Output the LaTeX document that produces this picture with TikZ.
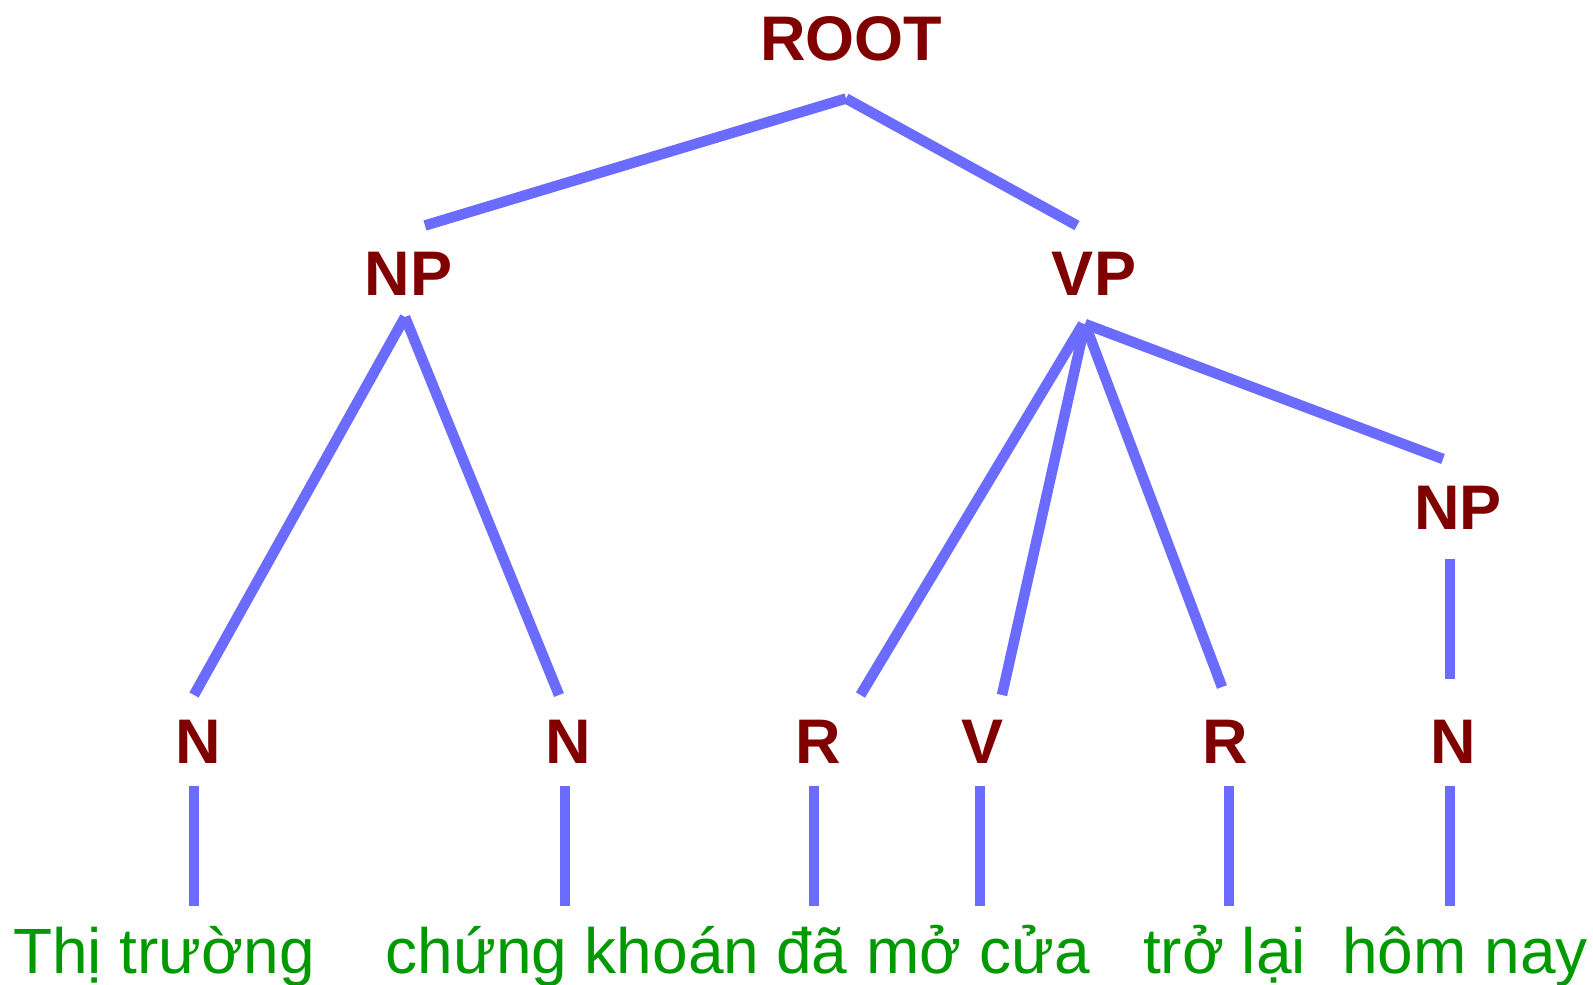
\documentclass[tikz,border=0pt]{standalone}
\usepackage{fontspec}
\setmainfont{Liberation Sans}
\definecolor{edgeblue}{HTML}{6B6BFF}
\definecolor{catred}{HTML}{800000}
\definecolor{wordgreen}{HTML}{009900}
\begin{document}
\begin{tikzpicture}[x=1pt,y=-1pt,
  cat/.style={inner sep=0pt,anchor=base,text=catred,font=\fontsize{63}{63}\selectfont\bfseries},
  word/.style={inner sep=0pt,anchor=base,text=wordgreen,font=\fontsize{64}{64}\selectfont},
  edge/.style={draw=edgeblue,line width=10.5pt,line cap=butt}]
\useasboundingbox (0,0) rectangle (1593,985);
% category labels
\node[cat] (root) at (851,60) {ROOT};
\node[cat] (np1) at (408.5,295) {NP};
\node[cat] (vp) at (1094,295) {VP};
\node[cat] (np2) at (1458,529) {NP};
\node[cat] (n1) at (198,763) {N};
\node[cat] (n2) at (568,763) {N};
\node[cat] (r1) at (818,763) {R};
\node[cat] (v) at (982.5,763) {V};
\node[cat] (r2) at (1225,763) {R};
\node[cat] (n3) at (1453,763) {N};
% words
\node[word] (w1) at (164,973) {Thị trường};
\node[word] (w2) at (572.5,973) {chứng khoán};
\node[word] (w3) at (812,973) {đã};
\node[word] (w4) at (978,973) {mở cửa};
\node[word] (w5) at (1224.5,973) {trở lại};
\node[word] (w6) at (1465,973) {hôm nay};
% connector end points
\coordinate (root-b) at (846,98.5);
\coordinate (np1-t) at (425,225.5);
\coordinate (vp-t) at (1077,225.5);
\coordinate (np1-b) at (405,317);
\coordinate (n1-t) at (194,695);
\coordinate (n2-t) at (559,695);
\coordinate (vp-b1) at (1083,324);
\coordinate (vp-b) at (1085,324);
\coordinate (r1-t) at (860.5,695);
\coordinate (v-t) at (1002,695);
\coordinate (r2-t) at (1222,687);
\coordinate (np2-t) at (1443,459);
\coordinate (np2-b) at (1450,559);
\coordinate (n3-t) at (1450,679);
\coordinate (n1-b) at (194,786);  \coordinate (w1-t) at (194,906);
\coordinate (n2-b) at (565,786);  \coordinate (w2-t) at (565,906);
\coordinate (r1-b) at (814,786);  \coordinate (w3-t) at (814,906);
\coordinate (v-b) at (980,786);   \coordinate (w4-t) at (980,906);
\coordinate (r2-b) at (1229,786); \coordinate (w5-t) at (1229,906);
\coordinate (n3-b) at (1450,786); \coordinate (w6-t) at (1450,906);
% connectors
\draw[edge] (root-b) -- (np1-t);
\draw[edge] (root-b) -- (vp-t);
\draw[edge] (np1-b) -- (n1-t);
\draw[edge] (np1-b) -- (n2-t);
\draw[edge] (vp-b1) -- (r1-t);
\draw[edge] (vp-b) -- (v-t);
\draw[edge] (vp-b) -- (r2-t);
\draw[edge] (vp-b) -- (np2-t);
\draw[edge] (np2-b) -- (n3-t);
\draw[edge] (n1-b) -- (w1-t);
\draw[edge] (n2-b) -- (w2-t);
\draw[edge] (r1-b) -- (w3-t);
\draw[edge] (v-b) -- (w4-t);
\draw[edge] (r2-b) -- (w5-t);
\draw[edge] (n3-b) -- (w6-t);
\end{tikzpicture}
\end{document}
